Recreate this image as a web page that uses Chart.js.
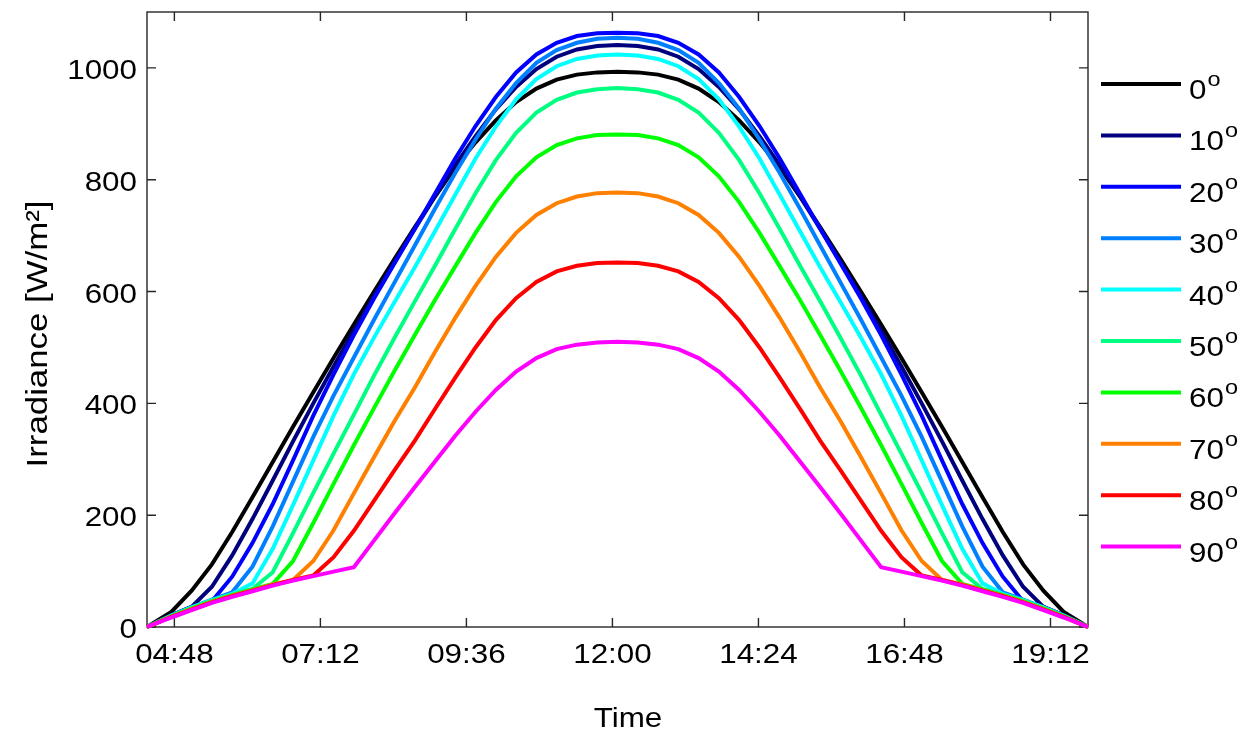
<!DOCTYPE html>
<html>
<head>
<meta charset="utf-8">
<script src="https://cdn.jsdelivr.net/npm/chart.js@4.4.0/dist/chart.umd.min.js"></script>
<style>
  html, body { margin: 0; padding: 0; background: #ffffff; }
  #wrap { width: 1247px; height: 733px; }
</style>
</head>
<body>
<div id="wrap"><canvas id="chart" width="1247" height="733"></canvas></div>
<script>
// Time of day in minutes after midnight (sunrise 04:21, sunset 19:49)
const times = [261, 285, 305, 325, 345, 365, 385, 405, 425, 445, 465, 485, 505, 525, 545, 565, 585, 605, 625, 645, 665, 685, 705, 725,
               745, 765, 785, 805, 825, 845, 865, 885, 905, 925, 945, 965, 985, 1005, 1025, 1045, 1065, 1085, 1105, 1125, 1145, 1165, 1189];

// Irradiance on the plane, W/m^2, one array per tilt angle
const g0  = [0, 27, 65, 112, 170, 232, 295, 358, 420, 481, 541, 600, 658, 715, 770, 822, 867, 906, 939, 963, 979, 988, 992, 993,
             992, 988, 979, 963, 939, 906, 867, 822, 770, 715, 658, 600, 541, 481, 420, 358, 295, 232, 170, 112, 65, 27, 0];
const g10 = [0, 21, 36, 72, 128, 193, 262, 332, 400, 466, 530, 592, 652, 712, 770, 826, 878, 926, 966, 998, 1020, 1033, 1039, 1041,
             1039, 1033, 1020, 998, 966, 926, 878, 826, 770, 712, 652, 592, 530, 466, 400, 332, 262, 193, 128, 72, 36, 21, 0];
const g20 = [0, 21, 36, 46, 90, 150, 220, 298, 378, 452, 522, 588, 650, 712, 775, 838, 896, 948, 992, 1024, 1045, 1057, 1062, 1063,
             1062, 1057, 1045, 1024, 992, 948, 896, 838, 775, 712, 650, 588, 522, 452, 378, 298, 220, 150, 90, 46, 36, 21, 0];
const g30 = [0, 21, 35, 49, 62, 108, 180, 260, 340, 414, 482, 550, 616, 682, 748, 812, 872, 927, 973, 1009, 1032, 1045, 1052, 1054,
             1052, 1045, 1032, 1009, 973, 927, 872, 812, 748, 682, 616, 550, 482, 414, 340, 260, 180, 108, 62, 49, 35, 21, 0];
const g40 = [0, 20, 35, 48, 59, 78, 140, 218, 298, 378, 452, 518, 581, 643, 708, 773, 838, 895, 944, 980, 1003, 1016, 1022, 1024,
             1022, 1016, 1003, 980, 944, 895, 838, 773, 708, 643, 581, 518, 452, 378, 298, 218, 140, 78, 59, 48, 35, 20, 0];
const g50 = [0, 20, 34, 47, 58, 68, 98, 168, 240, 310, 380, 450, 517, 582, 646, 712, 776, 835, 884, 920, 943, 956, 962, 964,
             962, 956, 943, 920, 884, 835, 776, 712, 646, 582, 517, 450, 380, 310, 240, 168, 98, 68, 58, 47, 34, 20, 0];
const g60 = [0, 19, 33, 46, 57, 67, 77, 118, 186, 256, 325, 392, 458, 522, 585, 645, 705, 760, 806, 840, 862, 874, 880, 881,
             880, 874, 862, 840, 806, 760, 705, 645, 585, 522, 458, 392, 325, 256, 186, 118, 77, 67, 57, 46, 33, 19, 0];
const g70 = [0, 18, 32, 45, 56, 66, 76, 84, 118, 173, 239, 304, 368, 428, 492, 553, 610, 662, 705, 737, 758, 770, 776, 777,
             776, 770, 758, 737, 705, 662, 610, 553, 492, 428, 368, 304, 239, 173, 118, 84, 76, 66, 56, 45, 32, 18, 0];
const g80 = [0, 18, 31, 44, 55, 65, 75, 84, 92, 125, 172, 226, 280, 333, 390, 446, 500, 549, 588, 617, 636, 646, 651, 652,
             651, 646, 636, 617, 588, 549, 500, 446, 390, 333, 280, 226, 172, 125, 92, 84, 75, 65, 55, 44, 31, 18, 0];
const g90 = [0, 17, 30, 43, 54, 64, 74, 83, 91, 99, 107, 155, 203, 250, 296, 342, 385, 424, 457, 481, 497, 505, 509, 510,
             509, 505, 497, 481, 457, 424, 385, 342, 296, 250, 203, 155, 107, 99, 91, 83, 74, 64, 54, 43, 30, 17, 0];

const tilts = ['0', '10', '20', '30', '40', '50', '60', '70', '80', '90'];
const series = [g0, g10, g20, g30, g40, g50, g60, g70, g80, g90];
const colors = ['#000000', '#00007f', '#0000ff', '#0080ff', '#00ffff', '#00ff80', '#00ff00', '#ff8000', '#ff0000', '#ff00ff'];

// Axis ticks
const xTickValues = [288, 432, 576, 720, 864, 1008, 1152];
const xTickLabels = ['04:48', '07:12', '09:36', '12:00', '14:24', '16:48', '19:12'];
const yTickValues = [0, 200, 400, 600, 800, 1000];

const FONT = '"Liberation Sans", Arial, Helvetica, sans-serif';
const STRETCH = 1.12;

function drawText(ctx, str, x, y, align, size) {
  ctx.save();
  ctx.font = size + 'px ' + FONT;
  ctx.textAlign = align;
  ctx.textBaseline = 'alphabetic';
  ctx.translate(x, y);
  ctx.scale(STRETCH, 1);
  ctx.fillText(str, 0, 0);
  ctx.restore();
}

const axesBox = {
  id: 'axesBox',
  beforeDatasetsDraw(chart) {
    const { ctx, chartArea: a, scales } = chart;
    ctx.save();
    ctx.strokeStyle = '#262626';
    ctx.lineWidth = 1.4;
    ctx.strokeRect(a.left, a.top, a.right - a.left, a.bottom - a.top);
    ctx.beginPath();
    xTickValues.forEach(v => {
      const px = scales.x.getPixelForValue(v);
      ctx.moveTo(px, a.bottom); ctx.lineTo(px, a.bottom - 9);
      ctx.moveTo(px, a.top); ctx.lineTo(px, a.top + 9);
    });
    yTickValues.forEach(v => {
      const py = scales.y.getPixelForValue(v);
      ctx.moveTo(a.left, py); ctx.lineTo(a.left + 9, py);
      ctx.moveTo(a.right, py); ctx.lineTo(a.right - 9, py);
    });
    ctx.stroke();
    ctx.restore();
  },
  afterDraw(chart) {
    const { ctx, chartArea: a, scales } = chart;
    ctx.save();
    ctx.fillStyle = '#000000';
    // tick labels
    yTickValues.forEach(v => {
      drawText(ctx, String(v), a.left - 10, scales.y.getPixelForValue(v) + 11, 'right', 28);
    });
    xTickValues.forEach((v, i) => {
      drawText(ctx, xTickLabels[i], scales.x.getPixelForValue(v), 663, 'center', 28);
    });
    // axis titles
    drawText(ctx, 'Time', 628, 727, 'center', 28);
    ctx.save();
    ctx.translate(47, 334);
    ctx.rotate(-Math.PI / 2);
    ctx.font = '30px ' + FONT;
    ctx.textAlign = 'center';
    ctx.scale(1.16, 1);
    ctx.fillText('Irradiance [W/m\u00B2]', 0, 0);
    ctx.restore();
    // legend
    const rowTop = 84, rowStep = 51.4;
    chart.data.datasets.forEach((ds, i) => {
      const y = rowTop + i * rowStep;
      ctx.strokeStyle = ds.borderColor;
      ctx.lineWidth = 4;
      ctx.beginPath();
      ctx.moveTo(1101, y);
      ctx.lineTo(1181, y);
      ctx.stroke();
      ctx.save();
      ctx.font = '28px ' + FONT;
      ctx.textAlign = 'left';
      ctx.translate(1189, y + 15);
      ctx.scale(STRETCH, 1);
      ctx.fillText(tilts[i], 0, 0);
      const w = ctx.measureText(tilts[i]).width;
      ctx.font = '21px ' + FONT;
      ctx.fillText('o', w + 1, -13);
      ctx.restore();
    });
    ctx.restore();
  }
};

new Chart(document.getElementById('chart'), {
  type: 'line',
  data: {
    datasets: series.map((vals, i) => ({
      label: tilts[i] + '\u00B0',
      data: times.map((t, k) => ({ x: t, y: vals[k] })),
      borderColor: colors[i],
      borderWidth: 4,
      pointRadius: 0,
      tension: 0,
      fill: false,
      clip: false,
      order: series.length - i
    }))
  },
  options: {
    responsive: false,
    animation: false,
    devicePixelRatio: 1,
    layout: { padding: { left: 147, top: 12, right: 159, bottom: 106 } },
    plugins: { legend: { display: false }, tooltip: { enabled: false } },
    scales: {
      x: { type: 'linear', min: 261, max: 1189, display: false },
      y: { type: 'linear', min: 0, max: 1100, display: false }
    }
  },
  plugins: [axesBox]
});
</script>
</body>
</html>
